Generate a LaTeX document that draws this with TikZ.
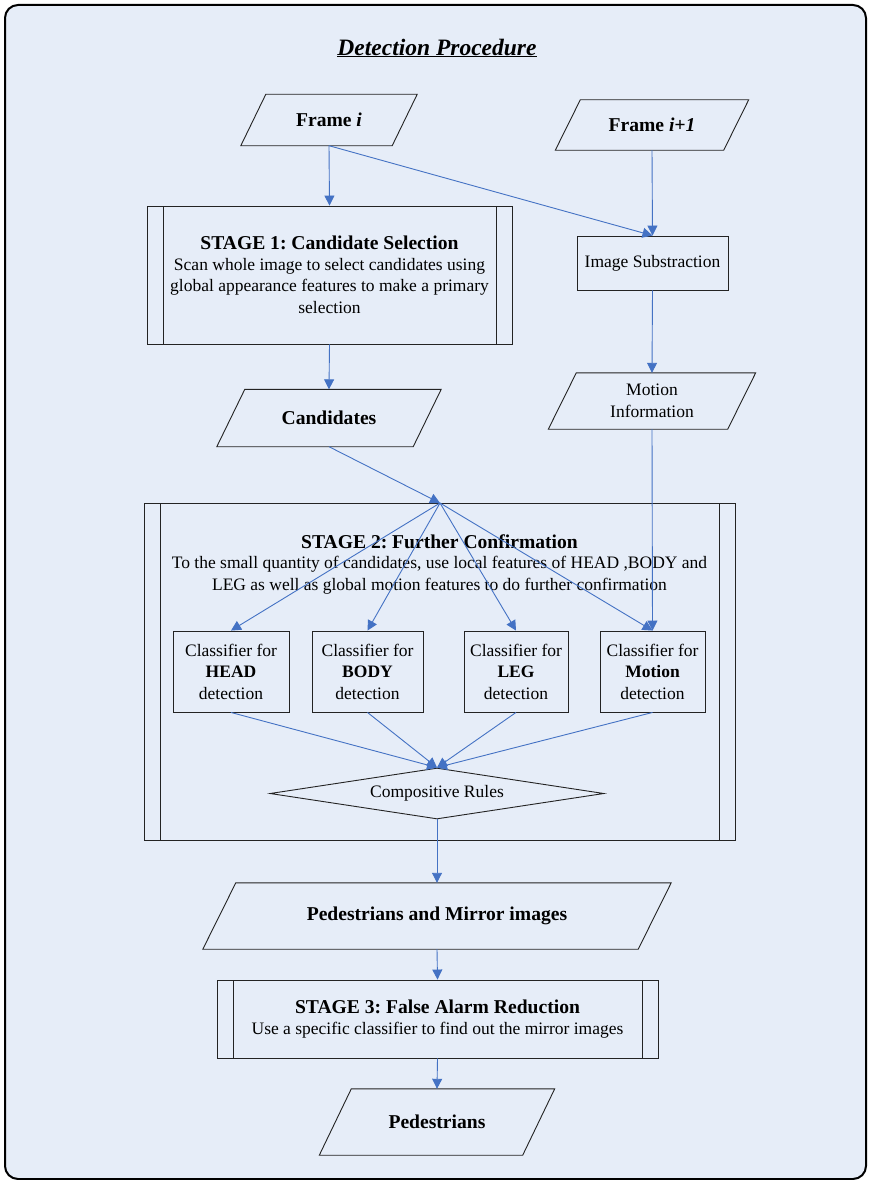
\documentclass[tikz,border=0pt]{standalone}
\usepackage{fontspec}
\usepackage{xcolor}
\setmainfont{Liberation Serif}
\usetikzlibrary{shapes.geometric,arrows.meta}
\definecolor{paneBlue}{RGB}{230,237,248}
\definecolor{flowBlue}{RGB}{68,114,196}
\definecolor{edgeGray}{RGB}{35,35,35}
\newcommand{\txtSize}{\fontsize{17.5}{21.5}\selectfont\frenchspacing}
\newcommand{\headSize}{\fontsize{19.6}{22}\selectfont\frenchspacing}

\begin{document}
\begin{tikzpicture}[x=1pt,y=-1pt,
  every node/.style={font=\txtSize},
  box/.style={draw=edgeGray,line width=0.9pt,align=center,inner sep=2pt},
  dataio/.style={align=center,inner sep=0pt,font=\headSize\bfseries,
    append after command={\pgfextra{\draw[edgeGray,line width=0.9pt]
      ([xshift=-#1]\tikzlastnode.south west) -- ([xshift=-#1]\tikzlastnode.south east) --
      ([xshift=#1]\tikzlastnode.north east) -- ([xshift=#1]\tikzlastnode.north west) -- cycle;}}},
  dataio/.default=12.5pt,
  stagebox/.style={box,path picture={
    \draw[edgeGray,line width=0.9pt] ([xshift=16pt]path picture bounding box.north west) -- ([xshift=16pt]path picture bounding box.south west);
    \draw[edgeGray,line width=0.9pt] ([xshift=-16pt]path picture bounding box.north east) -- ([xshift=-16pt]path picture bounding box.south east);}},
  flow/.style={draw=flowBlue,line width=0.9pt,-{Triangle[length=10pt,width=10pt]}}]
\useasboundingbox (0,0) rectangle (869,1180);
\draw[rounded corners=13pt,line width=2pt,fill=paneBlue] (5,5) rectangle (866,1179);
\node (title) at (437,48) {\fontsize{23.5}{27}\selectfont\bfseries\itshape\underline{Detection Procedure}};
% inputs
\node[dataio,minimum width=151,minimum height=51] (frameA) at (329,120) {Frame \textit{i}};
\node[dataio,minimum width=168,minimum height=50] (frameB) at (652,125) {Frame \textit{i+1}};
% stage 1 and motion branch
\node[stagebox,minimum width=365,minimum height=138] (stageOne) at (329.5,275)
  {{\headSize\bfseries STAGE 1: Candidate Selection}\\[-1pt]Scan whole image to select candidates using\\global appearance features to make a primary\\selection};
\node[box,minimum width=151,minimum height=54] (imgSub) at (652.5,263) {Image Substraction};
\node[dataio=14pt,minimum width=196,minimum height=57] (cands) at (329,418) {Candidates};
\node[dataio=14pt,font=\txtSize,minimum width=179,minimum height=56] (motInfo) at (652,401) {Motion\\Information};
% stage 2
\node[stagebox,minimum width=591,minimum height=337] (stageTwo) at (439.5,671.5) {};
\node[align=center] (stageTwoTxt) at (439.5,564)
  {{\headSize\bfseries STAGE 2: Further Confirmation}\\[-1pt]To the small quantity of candidates, use local features of HEAD ,BODY and\\LEG as well as global motion features to do further confirmation};
\coordinate (fan) at (440,503);
\node[box,minimum width=116,minimum height=81] (clsHead) at (231,671.5) {Classifier for\\\textbf{HEAD}\\detection};
\node[box,minimum width=111,minimum height=81] (clsBody) at (367.5,671.5) {Classifier for\\\textbf{BODY}\\detection};
\node[box,minimum width=104,minimum height=81] (clsLeg) at (516,671.5) {Classifier for\\\textbf{LEG}\\detection};
\node[box,minimum width=105,minimum height=81] (clsMotion) at (652.5,671.5) {Classifier for\\\textbf{Motion}\\detection};
\node[box,diamond,aspect=6.5,minimum width=334,minimum height=51,inner sep=0pt] (rules) at (437,793.5) {Compositive Rules};
% stage 3 and output
\node[dataio=16.5pt,minimum width=435,minimum height=66] (pedMir) at (437,916) {Pedestrians and Mirror images};
\node[stagebox,minimum width=441,minimum height=78] (stageThree) at (437.5,1019)
  {{\headSize\bfseries STAGE 3: False Alarm Reduction}\\[-1pt]Use a specific classifier to find out the mirror images};
\node[dataio=16pt,minimum width=203,minimum height=66] (peds) at (437,1122) {Pedestrians};
% connectors
\draw[flow] (frameA.south) -- (stageOne.north);
\draw[flow] (frameA.south) -- (imgSub.north);
\draw[flow] (frameB.south) -- (imgSub.north);
\draw[flow] (stageOne.south) -- (cands.north);
\draw[flow] (imgSub.south) -- (motInfo.north);
\draw[flow] (cands.south) -- (fan);
\foreach \cls in {clsHead,clsBody,clsLeg,clsMotion}
  \draw[flow] (fan) -- (\cls.north);
\draw[flow] (motInfo.south) -- (clsMotion.north);
\foreach \cls in {clsHead,clsBody,clsLeg,clsMotion}
  \draw[flow] (\cls.south) -- (rules.north);
\draw[flow] (rules.south) -- (pedMir.north);
\draw[flow] (pedMir.south) -- (stageThree.north);
\draw[flow] (stageThree.south) -- (peds.north);
\end{tikzpicture}
\end{document}
